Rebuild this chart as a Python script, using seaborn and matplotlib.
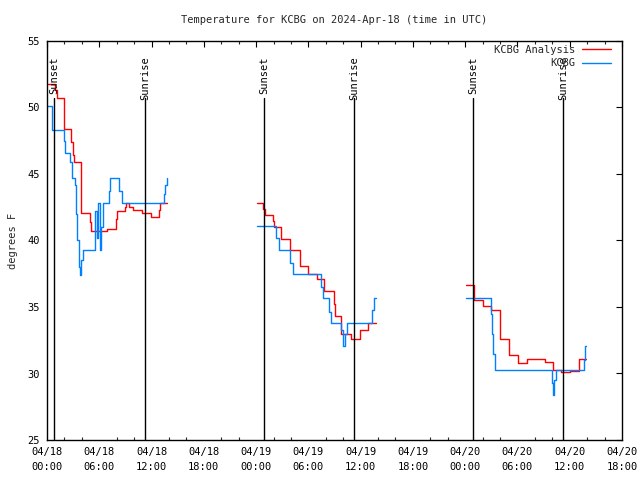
import numpy as np
import pandas as pd
import matplotlib
matplotlib.use("Agg")
import matplotlib.pyplot as plt
import matplotlib.dates as mdates
from matplotlib.lines import Line2D
import seaborn as sns

# ---- data (hours after 2024-04-18 00:00 UTC, values in degrees F) ----
analysis_seg1_h = [0.1, 0.95, 1.1, 1.9, 2.0, 2.8, 2.95, 3.15, 3.85, 3.95, 4.9, 5.0, 6.85, 7.9, 8.0, 8.9, 9.1, 9.4, 9.9, 10.9, 11.9, 12.85, 13.0, 13.8]
analysis_seg1_v = [51.8, 51.3, 50.7, 49.5, 48.4, 47.4, 46.4, 45.9, 44.0, 42.1, 41.4, 40.7, 40.9, 41.6, 42.2, 42.5, 42.85, 42.5, 42.3, 42.1, 41.8, 42.3, 42.8, 42.8]
analysis_seg2_h = [24.1, 24.85, 25.0, 25.9, 26.0, 26.9, 27.9, 29.0, 30.0, 31.0, 31.8, 32.9, 33.0, 33.8, 34.9, 35.9, 36.9, 37.8]
analysis_seg2_v = [42.8, 42.4, 41.9, 41.5, 41.0, 40.1, 39.3, 38.1, 37.5, 37.1, 36.2, 35.2, 34.3, 33.0, 32.6, 33.25, 33.8, 33.8]
analysis_seg3_h = [48.1, 49.0, 50.1, 51.0, 52.0, 53.0, 54.05, 55.05, 57.15, 58.05, 59.05, 60.0, 61.1, 61.9]
analysis_seg3_v = [36.65, 35.5, 35.1, 34.8, 32.6, 31.4, 30.8, 31.1, 30.85, 30.3, 30.1, 30.2, 31.1, 31.1]

obs_seg1_h = [0.0, 0.55, 1.9, 2.05, 2.6, 2.9, 3.2, 3.35, 3.5, 3.7, 3.8, 3.95, 4.15, 5.55, 5.7, 5.85, 6.05, 6.2, 6.45, 7.1, 7.25, 8.3, 8.6, 13.4, 13.6, 13.8]
obs_seg1_v = [50.1, 48.3, 47.5, 46.6, 45.9, 44.7, 44.2, 42.0, 40.0, 38.0, 37.4, 38.5, 39.3, 42.2, 40.2, 42.85, 39.3, 41.0, 42.85, 43.7, 44.7, 43.7, 42.85, 43.5, 44.2, 44.7]
obs_seg2_h = [24.1, 26.25, 26.6, 27.9, 28.2, 31.5, 31.7, 32.4, 32.6, 33.8, 34.0, 34.2, 34.45, 37.3, 37.5, 37.8]
obs_seg2_v = [41.1, 40.2, 39.3, 38.3, 37.45, 36.5, 35.65, 34.6, 33.8, 33.3, 32.1, 33.0, 33.8, 34.8, 35.65, 35.65]
obs_seg3_h = [48.1, 50.95, 51.1, 51.25, 51.4, 57.95, 58.1, 58.25, 58.45, 61.6, 61.8, 61.85]
obs_seg3_v = [35.65, 34.5, 33.0, 31.5, 30.3, 29.3, 28.4, 29.5, 30.3, 31.0, 32.1, 32.1]

series_names = ["KCBG Analysis", "KCBG"]
event_hours = [0.85, 11.3, 24.93, 35.28, 48.93, 59.27]
event_labels = ["Sunset", "Sunrise", "Sunset", "Sunrise", "Sunset", "Sunrise"]
title = "Temperature for KCBG on 2024-Apr-18 (time in UTC)"
ylabel = "degrees F"

# ---- build table ----
t0 = pd.Timestamp("2024-04-18 00:00")
rows = []
segs = [
    (series_names[0], 1, analysis_seg1_h, analysis_seg1_v),
    (series_names[0], 2, analysis_seg2_h, analysis_seg2_v),
    (series_names[0], 3, analysis_seg3_h, analysis_seg3_v),
    (series_names[1], 4, obs_seg1_h, obs_seg1_v),
    (series_names[1], 5, obs_seg2_h, obs_seg2_v),
    (series_names[1], 6, obs_seg3_h, obs_seg3_v),
]
for name, seg, hs, vs in segs:
    for h, v in zip(hs, vs):
        rows.append({"time": t0 + pd.to_timedelta(h, unit="h"), "temp": v, "series": name, "seg": seg})
df = pd.DataFrame(rows)

sns.set_style("white")
mono = "DejaVu Sans Mono"
plt.rcParams["font.family"] = [mono]
plt.rcParams["font.size"] = 7.5

fig = plt.figure(figsize=(6.4, 4.8), dpi=100)
ax = fig.add_axes([47 / 640, 1 - 440 / 480, 575 / 640, 399 / 480])

palette = {series_names[0]: "#ff0000", series_names[1]: "#0080ff"}
sns.lineplot(data=df, x="time", y="temp", hue="series", units="seg", estimator=None,
             palette=palette, drawstyle="steps-post", linewidth=1.0, legend=False,
             ax=ax, sort=True)

# sunrise / sunset markers
for h, lab in zip(event_hours, event_labels):
    t = t0 + pd.to_timedelta(h, unit="h")
    ax.axvline(t, ymin=0, ymax=0.857, color="black", linewidth=1.0)
    ax.text(t, 0.962, lab, transform=ax.get_xaxis_transform(), rotation=90,
            ha="center", va="top", fontsize=7.5, color="black")

ax.set_xlim(t0, t0 + pd.Timedelta(hours=66))
ax.set_ylim(25, 55)
ax.set_yticks(np.arange(25, 56, 5))
ax.xaxis.set_major_locator(mdates.HourLocator(byhour=[0, 6, 12, 18]))
ax.xaxis.set_minor_locator(mdates.HourLocator(byhour=range(0, 24, 2)))
ax.xaxis.set_major_formatter(mdates.DateFormatter("%m/%d\n%H:%M"))

ax.tick_params(axis="both", which="major", direction="in", length=4.5, width=0.8,
               top=True, right=True, labelsize=7.5, pad=5, colors="black")
ax.tick_params(axis="x", which="minor", direction="in", length=2.3, width=0.8,
               top=True, bottom=True)
for lbl in ax.get_xticklabels():
    lbl.set_linespacing(1.6)
for s in ax.spines.values():
    s.set_visible(True)
    s.set_color("black")
    s.set_linewidth(1.0)

ax.set_xlabel("")
ax.set_ylabel(ylabel, fontsize=7.5, labelpad=7)
fig.text(334 / 640, 1 - 20 / 480, title, ha="center", va="center", fontsize=7.5)

# legend: one right-aligned entry per row (gnuplot style: text then sample line)
leg_kw = dict(loc="upper right", frameon=False, markerfirst=False, handlelength=2.7,
              handletextpad=0.7, borderaxespad=0.0, borderpad=0.0, fontsize=7.5)
h1 = Line2D([], [], color=palette[series_names[0]], linewidth=1.0)
h2 = Line2D([], [], color=palette[series_names[1]], linewidth=1.0)
leg1 = ax.legend([h1], [series_names[0]], bbox_to_anchor=(0.98, 0.99), **leg_kw)
ax.add_artist(leg1)
ax.legend([h2], [series_names[1]], bbox_to_anchor=(0.98, 0.957), **leg_kw)

fig.savefig("out.png", dpi=100)
